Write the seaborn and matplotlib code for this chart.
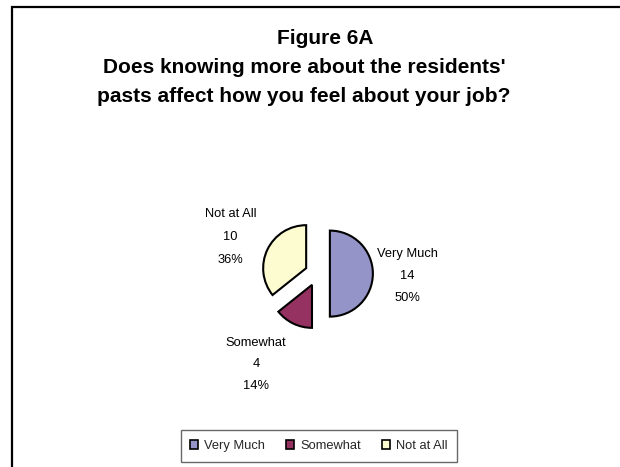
import matplotlib
matplotlib.use("Agg")
import matplotlib.pyplot as plt
import matplotlib.patches as mpatches
import seaborn as sns

categories = ["Very Much", "Somewhat", "Not at All"]
counts = [14, 4, 10]
colors = ["#9494C9", "#953262", "#FDFBD0"]
title_lines = ["Figure 6A",
               "Does knowing more about the residents'",
               "pasts affect how you feel about your job?"]

sns.set_theme(style="white")
plt.rcParams["font.family"] = ["Liberation Sans", "DejaVu Sans"]

W, H = 620, 467
fig = plt.figure(figsize=(W / 100, H / 100), dpi=100)
fig.patch.set_facecolor("white")


def fx(x):
    return x / W


def fy(y):
    return 1 - y / H


# pie axes: centre (317.4, 273.6) px, radius 43 px, limits +-2.5
L = 2.5
half = 43 * L
cx, cy = 317.4, 273.6
ax = fig.add_axes([fx(cx - half), fy(cy + half), 2 * half / W, 2 * half / H])
ax.pie(counts, colors=colors, startangle=90, counterclock=False,
       explode=[0.29] * len(counts), radius=1,
       wedgeprops=dict(edgecolor="black", linewidth=1.5))
ax.set_xlim(-L, L)
ax.set_ylim(-L, L)
ax.set_aspect("equal")
ax.axis("off")

# data labels
total = sum(counts)
label_pos = {"Very Much": (407.5, 257.3, 22.0),
             "Somewhat": (256.0, 345.6, 21.5),
             "Not at All": (230.7, 217.3, 22.8)}
for cat, val in zip(categories, counts):
    x, y0, dy = label_pos[cat]
    lines = [cat, str(val), f"{round(100 * val / total):.0f}%"]
    for i, t in enumerate(lines):
        fig.text(fx(x), fy(y0 + i * dy), t, ha="center", va="baseline",
                 fontsize=9.3, color="black")

# title
title_pos = [(325, 43.5), (304, 73.0), (304, 102.3)]
for t, (x, y) in zip(title_lines, title_pos):
    fig.text(fx(x), fy(y), t, ha="center", va="baseline",
             fontsize=15, fontweight="bold", color="black")

# chart-area frame (left and top edges visible)
frame = mpatches.Rectangle((fx(12), -0.1), 1.2, fy(7) + 0.1,
                           transform=fig.transFigure, fill=False,
                           edgecolor="black", linewidth=1.6, clip_on=False)
fig.add_artist(frame)

# legend
handles = [mpatches.Patch(facecolor=c, edgecolor="black", linewidth=1.2, label=cat)
           for c, cat in zip(colors, categories)]
leg = fig.legend(handles=handles, loc="center", bbox_to_anchor=(fx(319), fy(446)),
                 ncol=3, frameon=True, fancybox=False, fontsize=9.3,
                 handlelength=0.62, handleheight=0.62, handletextpad=0.45,
                 columnspacing=1.65, borderpad=0.75, borderaxespad=0)
leg.get_frame().set_edgecolor("#444444")
leg.get_frame().set_linewidth(1.0)

fig.savefig("out.png", dpi=100, facecolor="white")
